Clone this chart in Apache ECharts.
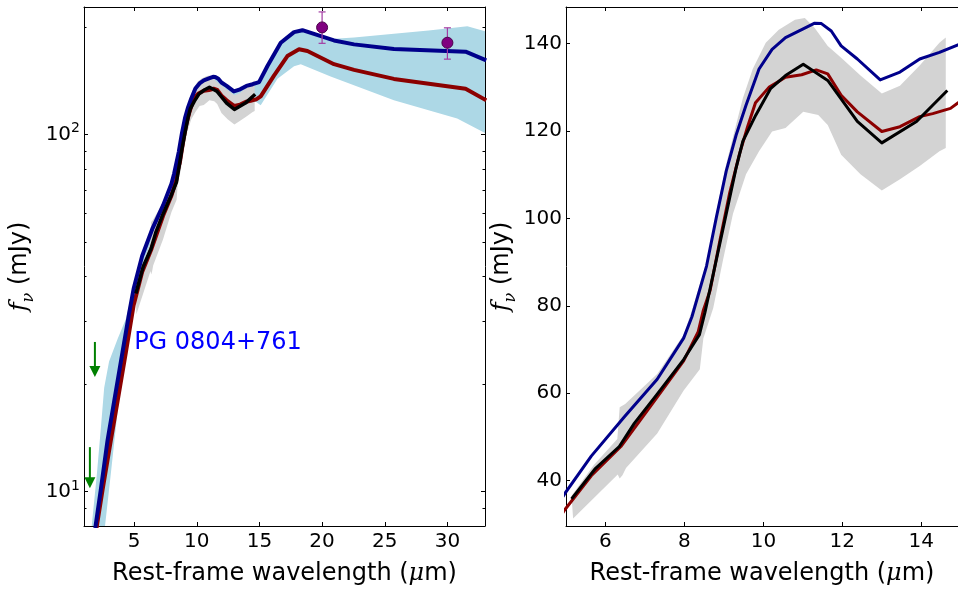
<!DOCTYPE html>
<html><head><meta charset="utf-8">
<script src="https://cdn.jsdelivr.net/npm/echarts@6/dist/echarts.min.js"></script>
<style>html,body{margin:0;padding:0;background:#fff;overflow:hidden}#c{width:958px;height:591px}</style>
</head><body><div id="c"></div>
<script>
// ---------- data ----------
const blueX = [1.9, 2.34, 2.88, 3.41, 4.07, 4.6, 4.96, 5.64, 6.48, 7.31, 7.98, 8.19, 8.56, 8.81, 9.06, 9.31, 9.56, 9.89, 10.22, 10.56, 10.97, 11.30, 11.47, 11.72, 11.97, 12.38, 12.96, 13.46, 13.96, 14.46, 14.97, 15.64, 16.70, 17.76, 18.43, 19.35, 20.95, 22.55, 25.73, 31.45, 33.1];
const blueY = [7.9, 10.1, 13.9, 17.9, 24.5, 31.5, 36.9, 45.6, 54.6, 63.2, 72.6, 77.5, 89.1, 100.3, 110.9, 119.1, 125.9, 134.2, 138.7, 141.4, 143.2, 144.7, 144.6, 142.9, 139.5, 136.5, 131.7, 133.5, 136.5, 138.0, 139.9, 155.2, 180.2, 193.1, 195.5, 190.9, 183.0, 178.4, 173.2, 170.2, 161];

const redX = [2.0, 2.48, 3.14, 3.68, 4.34, 4.96, 5.64, 6.39, 7.31, 7.98, 8.35, 8.48, 8.65, 8.9, 9.14, 9.39, 9.6, 9.8, 10.14, 10.56, 10.97, 11.34, 11.63, 11.97, 12.38, 13.0, 13.46, 13.96, 14.29, 14.74, 15.1, 16.16, 17.23, 18.16, 18.83, 20.95, 22.55, 25.73, 31.45, 33.1];
const redY = [7.9, 10.1, 13.9, 17.9, 24.5, 33.2, 41.1, 47.8, 59.1, 67.4, 74.1, 79.0, 83.5, 95.0, 105.6, 114.6, 121.0, 126.5, 130, 132.3, 132.9, 134, 133.1, 128.2, 124.4, 119.9, 121, 123.3, 124, 125.2, 127.6, 145.8, 165.5, 172.8, 171, 157, 151.4, 142.8, 134, 124.4];

const blackX = [5.14, 5.73, 6.35, 6.73, 7.31, 7.98, 8.38, 8.52, 8.81, 9.06, 9.31, 9.48, 9.81, 10.18, 10.56, 11.01, 11.63, 12.38, 13.0, 13.88, 14.66];
const blackY = [35.8, 42.6, 47.8, 53.1, 59.8, 67.7, 73.4, 78.5, 90.6, 101.1, 111.6, 117.7, 123.7, 129.7, 132.7, 135.3, 131.6, 122.2, 117.3, 122.2, 129.3];

const greyUpX = [5.14, 5.7, 6.3, 6.36, 6.5, 7.31, 7.98, 8.19, 8.56, 8.81, 9.06, 9.31, 9.48, 9.73, 10.06, 10.39, 10.80, 11.05, 11.3, 11.63, 11.97, 12.46, 13.0, 13.46, 13.96, 14.46, 14.62];
const greyUpY = [36.5, 43.5, 49.5, 56.8, 57.5, 64.4, 73.4, 79.0, 90.0, 101.5, 112.5, 121.5, 127.5, 134.2, 140.2, 143.2, 145.5, 145.9, 143.6, 139.5, 136.8, 132.7, 128.6, 130.4, 135, 140.2, 141.4];
const greyLoX = [5.18, 6.31, 6.36, 6.43, 6.52, 7.31, 7.98, 8.39, 8.48, 8.73, 8.98, 9.23, 9.56, 9.89, 10.22, 10.56, 11.01, 11.39, 11.63, 11.97, 12.46, 13.0, 13.46, 13.96, 14.46, 14.62];
const greyLoY = [31.3, 41.4, 40.5, 41.2, 42.9, 50.8, 60.6, 65.5, 72.6, 79.5, 90.6, 101.1, 110.1, 115.4, 119.9, 120.7, 124.4, 123.7, 121.4, 114.6, 110.1, 106.4, 109.0, 112.0, 115.4, 116.1];

const lbUpX = [1.6, 2.03, 2.35, 2.61, 3.0, 3.68, 4.34, 4.96, 5.64, 6.48, 7.31, 7.98, 8.52, 9.15, 9.81, 10.56, 11.3, 11.97, 12.96, 13.96, 14.97, 15.64, 16.70, 17.76, 18.43, 19.35, 20.68, 22.55, 25.73, 28.5, 31.59, 33.05];
const lbUpY = [7.9, 11.2, 15.1, 19.5, 23.1, 26.7, 30.4, 37.5, 46, 55, 63.5, 73, 85, 107, 133, 142, 145, 140, 132, 137, 141, 156, 181, 194, 196, 191.5, 184.8, 186.5, 191, 195, 200.4, 194];
const lbLoX = [2.66, 3.14, 3.54, 3.88, 4.2, 4.74, 5.64, 6.39, 7.31, 7.98, 8.65, 9.39, 9.89, 10.56, 11.34, 11.97, 13.0, 13.96, 14.74, 15.1, 16.44, 17.76, 18.3, 20.68, 25.73, 30.78, 33.05];
const lbLoY = [7.9, 11.2, 15.1, 19.5, 24.5, 31, 41, 47.8, 59, 67.4, 84.7, 114.6, 127.4, 132, 134, 128, 120, 123, 123, 120.5, 142.9, 155, 157, 145, 124.4, 110.7, 100.6];

const photX = [20, 30];
const photY = [199, 180.3];
const photLo = [179.6, 162.2];
const photHi = [219.9, 198.5];

const limX = [1.87, 1.47];
const limTop = [26.2, 13.3];
const limTip = [20.9, 10.2];

const logMinorTicks = [9, 20, 30, 40, 50, 60, 70, 80, 90, 200];
const objectName = 'PG 0804+761';
const objectNameX = 5.0, objectNameY = 26.0;
const xTitle = 'Rest-frame wavelength ({m|\u03bc}m)';
const yTitle = '{f|f}{n|\u03bd}{t| (mJy)}';

// ---------- helpers ----------
const zip = (xs, ys) => xs.map((x, i) => [x, ys[i]]);
const FONT = 'DejaVu Sans';

function clipOf(params) {
  const cs = params.coordSys;
  return { type: 'rect', shape: { x: cs.x, y: cs.y, width: cs.width, height: cs.height } };
}
function bandSeries(upX, upY, loX, loY, color, xi, yi, anchor) {
  return {
    type: 'custom', coordinateSystem: 'cartesian2d', xAxisIndex: xi, yAxisIndex: yi,
    data: [anchor], silent: true, z: 1,
    renderItem: function (params, api) {
      const pts = [];
      for (let i = 0; i < upX.length; i++) pts.push(api.coord([upX[i], upY[i]]));
      for (let i = loX.length - 1; i >= 0; i--) pts.push(api.coord([loX[i], loY[i]]));
      return { type: 'polygon', shape: { points: pts }, style: { fill: color }, clipPath: clipOf(params) };
    }
  };
}
function lineSeries(xs, ys, color, width, xi, yi, z) {
  return {
    type: 'line', xAxisIndex: xi, yAxisIndex: yi, data: zip(xs, ys),
    showSymbol: false, symbol: 'none', clip: true, silent: true, z: z,
    lineStyle: { color: color, width: width, join: 'round' }
  };
}
const axisLineStyle = { show: true, onZero: false, lineStyle: { color: '#000', width: 1 } };
const tickIn = { show: true, inside: true, length: 4, lineStyle: { color: '#000', width: 1 } };
const labelStyle = { color: '#000', fontSize: 20, fontFamily: FONT };
const xNameStyle = { fontSize: 24, color: '#000', fontFamily: FONT,
  rich: { m: { fontFamily: 'DejaVu Serif', fontStyle: 'italic', fontSize: 24, color: '#000' } } };
const yNameStyle = { rich: {
  f: { fontFamily: 'DejaVu Serif', fontStyle: 'italic', fontSize: 24, color: '#000', verticalAlign: 'bottom', padding: [0, 0, 5, 0] },
  n: { fontFamily: 'DejaVu Serif', fontStyle: 'italic', fontSize: 16, color: '#000', verticalAlign: 'bottom' },
  t: { fontFamily: FONT, fontSize: 24, color: '#000', verticalAlign: 'bottom', padding: [0, 0, 5, 0] }
} };

const chart = echarts.init(document.getElementById('c'), null, { renderer: 'canvas' });
chart.setOption({
  animation: false,
  backgroundColor: '#fff',
  textStyle: { fontFamily: FONT },
  grid: [
    { left: 84, top: 7, width: 401, height: 527 },
    { left: 566, top: 7, width: 400, height: 527 }
  ],
  xAxis: [
    { gridIndex: 0, type: 'value', min: 1, max: 33, minInterval: 5, maxInterval: 5, position: 'bottom',
      axisLine: axisLineStyle, axisTick: tickIn, splitLine: { show: false },
      axisLabel: Object.assign({ margin: 6, showMinLabel: false, showMaxLabel: false }, labelStyle),
      name: xTitle, nameLocation: 'middle', nameGap: 36, nameTextStyle: xNameStyle },
    { gridIndex: 0, type: 'value', min: 1, max: 33, minInterval: 5, maxInterval: 5, position: 'top',
      axisLine: axisLineStyle, axisTick: tickIn, splitLine: { show: false }, axisLabel: { show: false } },
    { gridIndex: 1, type: 'value', min: 5, max: 14.93, minInterval: 2, maxInterval: 2, position: 'bottom',
      axisLine: axisLineStyle, axisTick: tickIn, splitLine: { show: false },
      axisLabel: Object.assign({ margin: 6, showMinLabel: false, showMaxLabel: false }, labelStyle),
      name: xTitle, nameLocation: 'middle', nameGap: 36, nameTextStyle: xNameStyle },
    { gridIndex: 1, type: 'value', min: 5, max: 14.93, minInterval: 2, maxInterval: 2, position: 'top',
      axisLine: axisLineStyle, axisTick: tickIn, splitLine: { show: false }, axisLabel: { show: false } }
  ],
  yAxis: [
    { gridIndex: 0, type: 'log', logBase: 10, min: 8, max: 227, position: 'left',
      axisLine: axisLineStyle, axisTick: tickIn, splitLine: { show: false },
      axisLabel: { margin: 4, showMinLabel: false, showMaxLabel: false,
        formatter: function (v) {
          const e = Math.round(Math.log10(v));
          if (Math.abs(v - Math.pow(10, e)) / v > 1e-6) return '';
          return '{b|10}{s|' + e + '}';
        },
        rich: {
          b: { fontSize: 20, fontFamily: FONT, color: '#000', verticalAlign: 'bottom', padding: [0, 0, 2, 0] },
          s: { fontSize: 14, fontFamily: FONT, color: '#000', verticalAlign: 'bottom', padding: [0, 0, 11, 0] }
        } },
      name: yTitle, nameLocation: 'middle', nameGap: 47, nameTextStyle: yNameStyle },
    { gridIndex: 0, type: 'log', logBase: 10, min: 8, max: 227, position: 'right',
      axisLine: axisLineStyle, axisTick: tickIn, splitLine: { show: false }, axisLabel: { show: false } },
    { gridIndex: 1, type: 'value', min: 29.6, max: 148.4, minInterval: 20, maxInterval: 20, position: 'left',
      axisLine: axisLineStyle, axisTick: tickIn, splitLine: { show: false },
      axisLabel: Object.assign({ margin: 4, showMinLabel: false, showMaxLabel: false }, labelStyle),
      name: yTitle, nameLocation: 'middle', nameGap: 47, nameTextStyle: yNameStyle }
  ],
  series: [
    // left panel
    bandSeries(lbUpX, lbUpY, lbLoX, lbLoY, '#add8e6', 0, 0, [10, 100]),
    bandSeries(greyUpX, greyUpY, greyLoX, greyLoY, '#d3d3d3', 0, 0, [10, 100]),
    lineSeries(redX, redY, '#8b0000', 4, 0, 0, 3),
    lineSeries(blueX, blueY, '#00008b', 4, 0, 0, 4),
    lineSeries(blackX, blackY, '#000000', 3.5, 0, 0, 5),
    { // log minor ticks (left and right edges of left panel)
      type: 'custom', coordinateSystem: 'cartesian2d', xAxisIndex: 0, yAxisIndex: 0, data: [[10, 100]], silent: true, z: 10,
      renderItem: function (params, api) {
        const cs = params.coordSys; const ch = [];
        logMinorTicks.forEach(function (v) {
          const y = Math.round(api.coord([10, v])[1]) + 0.5;
          ch.push({ type: 'line', shape: { x1: cs.x, y1: y, x2: cs.x + 2.5, y2: y }, style: { stroke: '#000', lineWidth: 1 } });
          ch.push({ type: 'line', shape: { x1: cs.x + cs.width - 2.5, y1: y, x2: cs.x + cs.width, y2: y }, style: { stroke: '#000', lineWidth: 1 } });
        });
        return { type: 'group', children: ch };
      }
    },
    { // error bars
      type: 'custom', coordinateSystem: 'cartesian2d', xAxisIndex: 0, yAxisIndex: 0, silent: true, z: 6,
      data: photX.map((x, i) => [x, photLo[i], photHi[i]]),
      renderItem: function (params, api) {
        const a = api.coord([api.value(0), api.value(1)]);
        const b = api.coord([api.value(0), api.value(2)]);
        const s = { stroke: '#a23ca2', lineWidth: 1.2 };
        return { type: 'group', children: [
          { type: 'line', shape: { x1: a[0], y1: a[1], x2: b[0], y2: b[1] }, style: s },
          { type: 'line', shape: { x1: a[0] - 3.5, y1: a[1], x2: a[0] + 3.5, y2: a[1] }, style: s },
          { type: 'line', shape: { x1: b[0] - 3.5, y1: b[1], x2: b[0] + 3.5, y2: b[1] }, style: s }
        ] };
      }
    },
    { type: 'scatter', xAxisIndex: 0, yAxisIndex: 0, data: zip(photX, photY), symbol: 'circle', symbolSize: 11, z: 7, silent: true,
      itemStyle: { color: '#800080', borderColor: '#4a004a', borderWidth: 1, opacity: 1 } },
    { // upper-limit arrows
      type: 'custom', coordinateSystem: 'cartesian2d', xAxisIndex: 0, yAxisIndex: 0, silent: true, z: 6,
      data: limX.map((x, i) => [x, limTop[i], limTip[i]]),
      renderItem: function (params, api) {
        const t = api.coord([api.value(0), api.value(1)]);
        const p = api.coord([api.value(0), api.value(2)]);
        const hh = 11, hw = 5.5;
        return { type: 'group', children: [
          { type: 'line', shape: { x1: t[0], y1: t[1], x2: p[0], y2: p[1] - hh + 1 }, style: { stroke: '#008000', lineWidth: 2 } },
          { type: 'polygon', shape: { points: [[p[0] - hw, p[1] - hh], [p[0] + hw, p[1] - hh], [p[0], p[1]]] }, style: { fill: '#008000' } }
        ] };
      }
    },
    { // object label
      type: 'custom', coordinateSystem: 'cartesian2d', xAxisIndex: 0, yAxisIndex: 0, silent: true, z: 8,
      data: [[objectNameX, objectNameY]],
      renderItem: function (params, api) {
        const p = api.coord([api.value(0), api.value(1)]);
        return { type: 'text', x: p[0], y: p[1], style: { text: objectName, fill: '#0000ff', fontSize: 24, fontFamily: FONT, align: 'left', verticalAlign: 'middle', textAlign: 'left', textVerticalAlign: 'middle' } };
      }
    },
    // right panel
    bandSeries(greyUpX, greyUpY, greyLoX, greyLoY, '#d3d3d3', 2, 2, [10, 100]),
    lineSeries(redX, redY, '#8b0000', 3, 2, 2, 3),
    lineSeries(blueX, blueY, '#00008b', 3, 2, 2, 4),
    lineSeries(blackX, blackY, '#000000', 3, 2, 2, 5)
  ]
});
</script>
</body></html>
